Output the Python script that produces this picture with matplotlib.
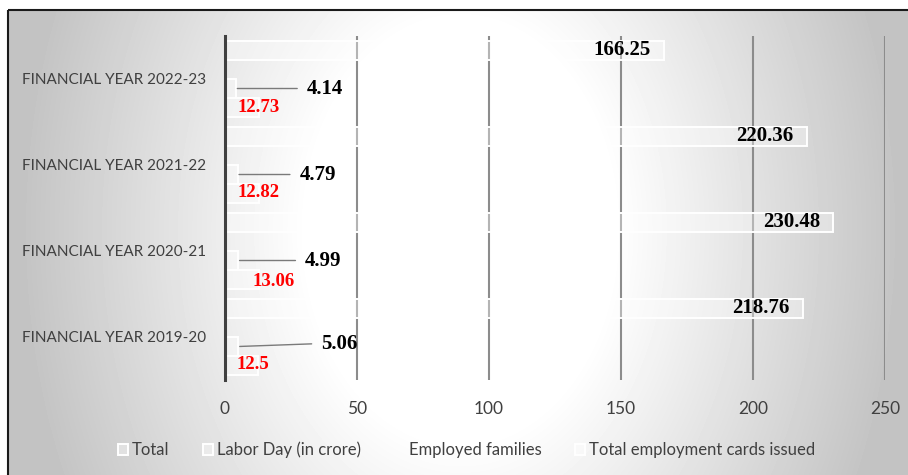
import numpy as np
import matplotlib
matplotlib.use("Agg")
import matplotlib.pyplot as plt
from matplotlib import font_manager
from matplotlib.patches import Rectangle, Patch

# ---- data -----------------------------------------------------------------
categories = ["FINANCIAL YEAR 2019-20", "FINANCIAL YEAR 2020-21",
              "FINANCIAL YEAR 2021-22", "FINANCIAL YEAR 2022-23"]
series_names = ["Total", "Labor Day (in crore)", "Employed families",
                "Total employment cards issued"]
total_vals = [12.5, 13.06, 12.82, 12.73]
labor_day_vals = [5.06, 4.99, 4.79, 4.14]
employed_families_vals = [0, 0, 0, 0]
cards_issued_vals = [218.76, 230.48, 220.36, 166.25]
x_ticks = [0, 50, 100, 150, 200, 250]

# ---- fonts ----------------------------------------------------------------
available = {f.name for f in font_manager.fontManager.ttflist}
sans = next(f for f in ["Lato", "Open Sans", "DejaVu Sans"] if f in available)
serif = "Liberation Serif" if "Liberation Serif" in available else "DejaVu Serif"

W, H = 908, 475
fig = plt.figure(figsize=(W / 100, H / 100), dpi=100)
fig.patch.set_facecolor("white")

# ---- framed gradient backdrop --------------------------------------------
bg = fig.add_axes([0, 0, 1, 1])
bg.set_xlim(0, W)
bg.set_ylim(H, 0)
bg.axis("off")
xx, yy = np.meshgrid(np.arange(8, W), np.arange(10, H))
t = np.sqrt(((xx - 460) / 440.0) ** 2 + ((yy - 230) / 600.0) ** 2)
s = np.clip((t - 0.35) / 0.65, 0, 1)
gray = 1.0 - 0.235 * s
bg.imshow(gray, cmap="gray", vmin=0, vmax=1, extent=(8, W, H, 10),
          interpolation="bilinear", aspect="auto", zorder=0)
bg.add_patch(Rectangle((8, 10), W + 20, H + 20, fill=False,
                       edgecolor="#1a1a1a", linewidth=1.5, zorder=1))

# ---- main bar chart -------------------------------------------------------
ax = fig.add_axes([225 / W, 95 / H, 660 / W, 344 / H])
ax.patch.set_alpha(0)
ax.set_xlim(0, 250)
ax.set_ylim(-0.5, 3.5)

y = np.arange(len(categories))
h = 0.221
bar_style = dict(facecolor=(1, 1, 1, 0.35), edgecolor="white", linewidth=1.4, zorder=3)
hidden_style = dict(facecolor="none", edgecolor="none", zorder=3)

ax.barh(y - 1.5 * h, total_vals, height=h, **bar_style)
ax.barh(y - 0.5 * h, labor_day_vals, height=h, **bar_style)
ax.barh(y + 0.5 * h, employed_families_vals, height=h, **hidden_style)
ax.barh(y + 1.5 * h, cards_issued_vals, height=h, **bar_style)

# vertical gridlines
for xv in x_ticks[1:]:
    ax.axvline(xv, color="#8c8c8c", linewidth=1.5, zorder=1)

# value labels: employment cards (inside the bar end)
for yi, v in zip(y, cards_issued_vals):
    ax.annotate(f"{v:g}", xy=(v, yi + 1.5 * h), xytext=(-13, 0),
                textcoords="offset pixels", ha="right", va="center",
                family=serif, weight="bold", fontsize=15, color="black", zorder=5)

# value labels: labor days with leader lines
labor_offsets = [(83, 3), (67, 0), (62, 0), (71, 0)]
for yi, v, (dx, dy) in zip(y, labor_day_vals, labor_offsets):
    ax.annotate(f"{v:g}", xy=(v, yi - 0.5 * h), xytext=(dx, dy),
                textcoords="offset pixels", ha="left", va="center",
                family=serif, weight="bold", fontsize=15, color="black", zorder=5,
                arrowprops=dict(arrowstyle="-", color="#7a7a7a", lw=1.0,
                                relpos=(0, 0.5), shrinkA=5, shrinkB=1))

# value labels: totals in red
total_offsets = [(-21, 1), (-6.5, -1.5), (-21.8, 1), (-21.6, 0)]
for yi, v, (dx, dy) in zip(y, total_vals, total_offsets):
    ax.annotate(f"{v:g}", xy=(v, yi - 1.5 * h), xytext=(dx, dy),
                textcoords="offset pixels", ha="left", va="center",
                family=serif, weight="bold", fontsize=13.5, color="#ff0000", zorder=5)

# axes styling
for side in ["top", "right", "bottom"]:
    ax.spines[side].set_visible(False)
ax.spines["left"].set_color("#404040")
ax.spines["left"].set_linewidth(2.2)
ax.spines["left"].set_zorder(6)

ax.set_yticks(y)
ax.set_yticklabels(categories, family=sans, fontsize=11, color="#404040")
ax.set_xticks(x_ticks)
ax.set_xticklabels([str(v) for v in x_ticks], family=sans, fontsize=12.5, color="#404040")
ax.tick_params(axis="y", length=0, pad=13.5)
ax.tick_params(axis="x", length=0, pad=15)

# legend
legend_bar = {k: v for k, v in bar_style.items() if k != "zorder"}
handles = [Patch(**legend_bar), Patch(**legend_bar),
           Patch(facecolor="none", edgecolor="none"), Patch(**legend_bar)]
fig.legend(handles, series_names, loc="center", ncol=4,
           bbox_to_anchor=(466.5 / W, 1 - 450 / H), frameon=False,
           prop=dict(family=sans, size=12), labelcolor="#404040",
           handlelength=0.6, handleheight=0.7, handletextpad=0.25,
           columnspacing=2.0)

fig.savefig("out.png", dpi=100)
